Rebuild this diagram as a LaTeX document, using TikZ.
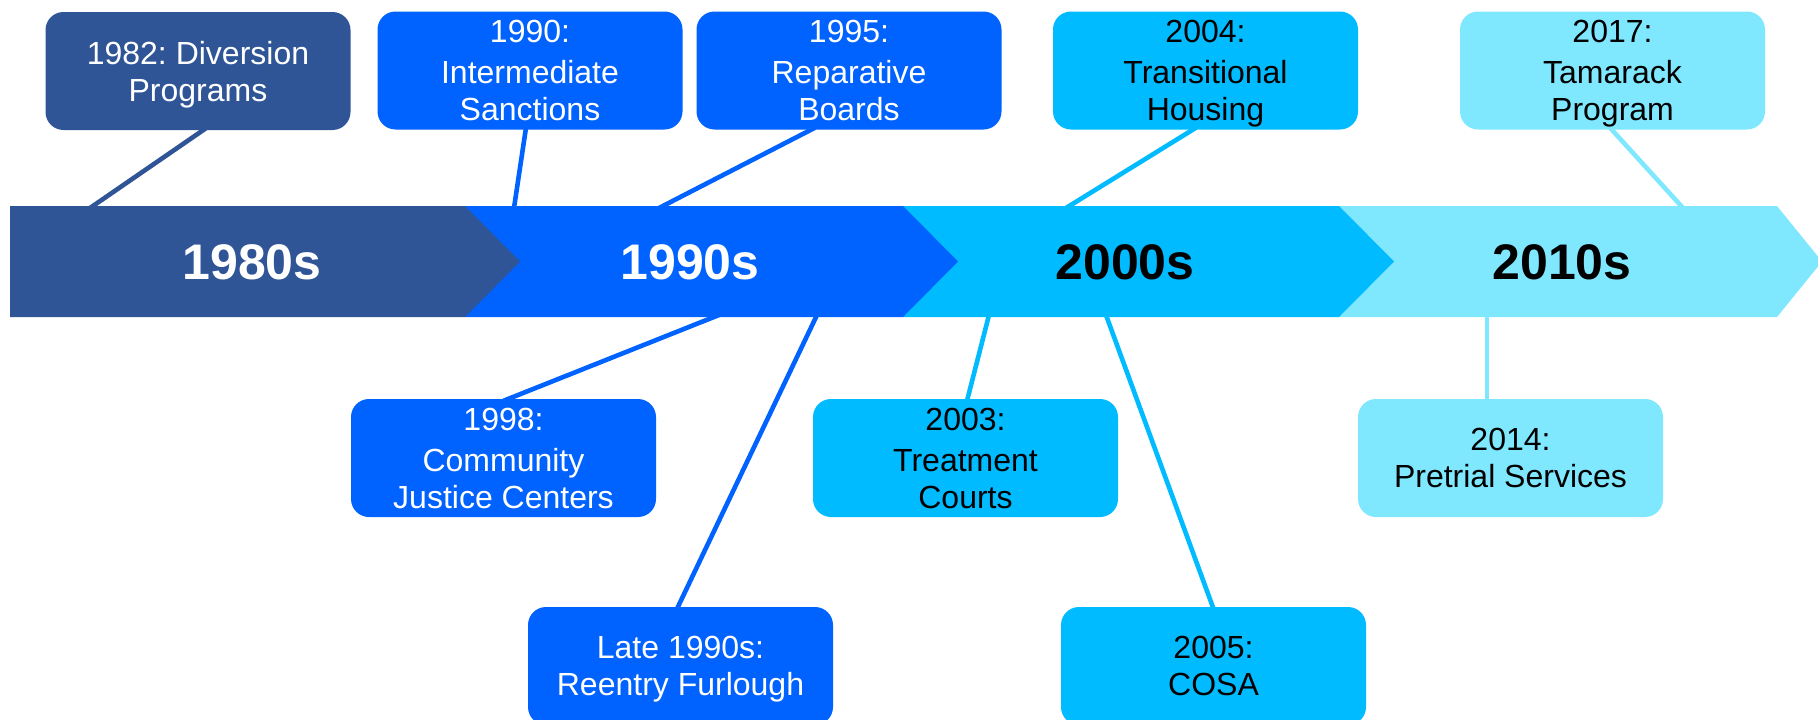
\documentclass[tikz,border=0pt]{standalone}
\usepackage{fontspec}
\setmainfont{Liberation Sans}
\frenchspacing
\usetikzlibrary{backgrounds}
\definecolor{cA}{HTML}{2F5597}
\definecolor{cB}{HTML}{0062FF}
\definecolor{cC}{HTML}{00BBFF}
\definecolor{cD}{HTML}{7FE8FF}
\tikzset{
  evbox/.style={rounded corners=18pt, minimum width=305pt, minimum height=118pt,
    inner sep=0pt, align=center, text depth=0pt, font=\fontsize{32pt}{37pt}\selectfont},
  decade/.style={font=\fontsize{50pt}{60pt}\selectfont\bfseries},
  conn/.style={line width=4.6pt},
}
\begin{document}
\begin{tikzpicture}[x=1pt,y=-1pt]
\useasboundingbox (0,0) rectangle (1818,720);
% band
\fill[cD] (1339,206) -- (1777,206) -- (1822,261.5) -- (1777,317) -- (1339,317) -- cycle;
\fill[cC] (903,206) -- (1339,206) -- (1394,261.5) -- (1339,317) -- (903,317) -- cycle;
\fill[cB] (465,206) -- (903,206) -- (958,261.5) -- (903,317) -- (465,317) -- cycle;
\fill[cA] (10,206) -- (465,206) -- (520,261.5) -- (465,317) -- (10,317) -- cycle;
\node[decade, text=white] (d80) at (252,262) {1980s};
\node[decade, text=white] (d90) at (690,262) {1990s};
\node[decade, text=black] (d00) at (1125,262) {2000s};
\node[decade, text=black] (d10) at (1562,262) {2010s};
% band attachment points
\coordinate (t1982) at (90,208);
\coordinate (t1990) at (514,208);
\coordinate (t1995) at (659,208);
\coordinate (t2004) at (1066,208);
\coordinate (t2017) at (1683,208);
\coordinate (u1998) at (719,315);
\coordinate (uLate) at (817,315);
\coordinate (u2003) at (989,315);
\coordinate (u2005) at (1106,315);
\coordinate (u2014) at (1487,315);
% boxes
\node[evbox, fill=cA, text=white] (b1982) at (198,71) {1982: Diversion\\Programs};
\node[evbox, fill=cB, text=white] (b1990) at (530,70.5) {1990:\\[4pt]Intermediate\\Sanctions};
\node[evbox, fill=cB, text=white] (b1995) at (849,70.5) {1995:\\[4pt]Reparative\\Boards};
\node[evbox, fill=cC, text=black] (b2004) at (1205.5,70.5) {2004:\\[4pt]Transitional\\Housing};
\node[evbox, fill=cD, text=black] (b2017) at (1612.5,70.5) {2017:\\[4pt]Tamarack\\Program};
\node[evbox, fill=cB, text=white] (b1998) at (503.5,458) {1998:\\[4pt]Community\\Justice Centers};
\node[evbox, fill=cC, text=black] (b2003) at (965.5,458) {2003:\\[4pt]Treatment\\Courts};
\node[evbox, fill=cD, text=black] (b2014) at (1510.5,458) {2014:\\Pretrial Services};
\node[evbox, fill=cB, text=white] (bLate) at (680.5,666) {Late 1990s:\\Reentry Furlough};
\node[evbox, fill=cC, text=black] (b2005) at (1213.5,666) {2005:\\COSA};
% connectors
\begin{scope}[on background layer]
\draw[conn, cA] ([xshift=8pt,yshift=2pt]b1982.south) -- (t1982);
\draw[conn, cB] ([xshift=-4pt,yshift=2pt]b1990.south) -- (t1990);
\draw[conn, cB] ([xshift=-34pt,yshift=2pt]b1995.south) -- (t1995);
\draw[conn, cC] ([xshift=-9.5pt,yshift=2pt]b2004.south) -- (t2004);
\draw[conn, cD] ([xshift=-2.5pt,yshift=2pt]b2017.south) -- (t2017);
\draw[conn, cB] (u1998) -- ([yshift=-2pt]b1998.north);
\draw[conn, cB] (uLate) -- ([xshift=-3.5pt,yshift=-2pt]bLate.north);
\draw[conn, cC] (u2003) -- ([xshift=1.5pt,yshift=-2pt]b2003.north);
\draw[conn, cC] (u2005) -- ([yshift=-2pt]b2005.north);
\draw[conn, cD] (u2014) -- ([xshift=-23.5pt,yshift=-2pt]b2014.north);
\end{scope}
\end{tikzpicture}
\end{document}
